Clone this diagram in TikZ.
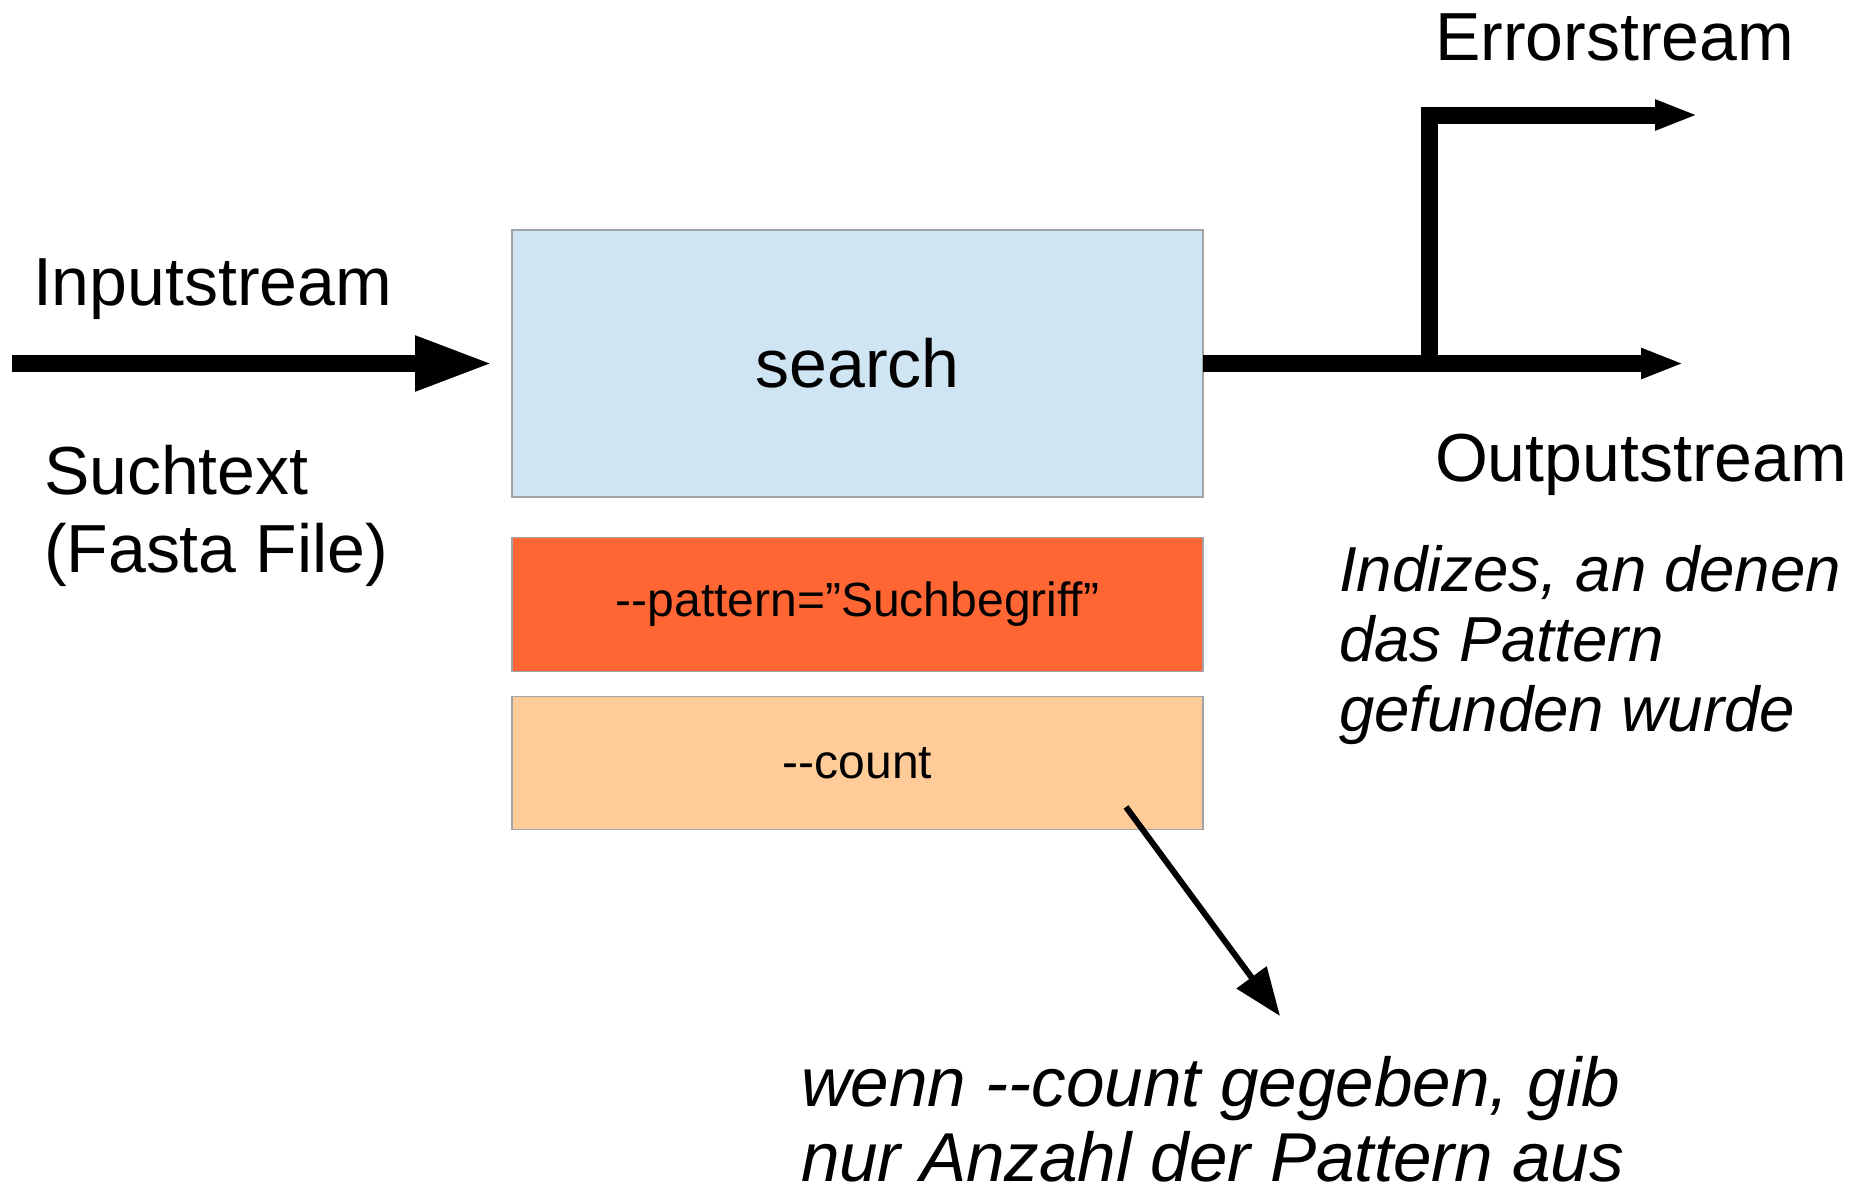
\documentclass[tikz,border=0pt]{standalone}
\usepackage{fontspec}
\setmainfont{Liberation Sans}
\usetikzlibrary{arrows.meta}
\definecolor{boxblue}{HTML}{CFE5F3}
\definecolor{boxred}{HTML}{FF6633}
\definecolor{boxpeach}{HTML}{FFCC99}
\definecolor{boxedge}{HTML}{A0A4A8}
\begin{document}
\begin{tikzpicture}[x=0.5pt,y=-0.5pt,
  box/.style={draw=boxedge, line width=0.8pt, rectangle, minimum width=345.5pt, inner sep=0pt, outer sep=0pt},
  big/.style={font=\fontsize{34}{39}\selectfont, inner sep=0pt, outer sep=0pt, anchor=base west},
  note/.style={font=\fontsize{31.8}{35}\selectfont\itshape, inner sep=0pt, outer sep=0pt, anchor=base west},
  note2/.style={font=\fontsize{34.6}{39}\selectfont\itshape, inner sep=0pt, outer sep=0pt, anchor=base west},
  flow/.style={line width=8.5pt, line join=miter},
  bighead/.style={-{Triangle[length=39pt,width=25.5pt]}},
  smallhead/.style={-{Triangle[length=21.5pt,width=14pt]}},
  thinarrow/.style={line width=3pt, -{Triangle[length=24pt,width=18pt]}}
]
\useasboundingbox[fill=white] (0,0) rectangle (1875,1189);

% boxes
\node[box, fill=boxblue, minimum height=133.5pt, font=\fontsize{34}{39}\selectfont] (search) at (857.5,363.5) {search};
\node[box, fill=boxred, minimum height=67pt, font=\fontsize{24}{28}\selectfont] (pattern) at (857.5,604.5) {-{}-pattern=”Suchbegriff”};
\node[box, fill=boxpeach, minimum height=66.5pt, font=\fontsize{24}{28}\selectfont] (count) at (857.5,763) {-{}-count};

% coordinates
\coordinate (inStart) at (12,363.5);
\coordinate (branch) at (1429,363.5);
\coordinate (outEnd) at (1684,363.5);
\coordinate (errEnd) at (1698,115);
\coordinate (cntStart) at (1126,807);
\coordinate (cntEnd) at (1280,1016);

% connectors
\draw[flow, bighead, shorten >=9.5pt] (inStart) -- (search.west);
\draw[flow, smallhead] (search.east) -- (outEnd);
\draw[flow, smallhead] (branch) |- (errEnd);
\draw[thinarrow] (cntStart) -- (cntEnd);

% labels
\node[big] (lblIn) at (33,305) {Inputstream};
\node[big] (lblSuch1) at (44,494) {Suchtext};
\node[big] (lblSuch2) at (44,572) {(Fasta File)};
\node[big] (lblErr) at (1435,60) {Errorstream};
\node[big] (lblOut) at (1435,481) {Outputstream};
\node[note] (idx1) at (1339,591) {Indizes, an denen};
\node[note] (idx2) at (1339,661) {das Pattern};
\node[note] (idx3) at (1339,731) {gefunden wurde};
\node[note2] (cnt1) at (801,1106) {wenn -{}-count gegeben, gib};
\node[note2] (cnt2) at (801,1181) {nur Anzahl der Pattern aus};
\end{tikzpicture}
\end{document}
